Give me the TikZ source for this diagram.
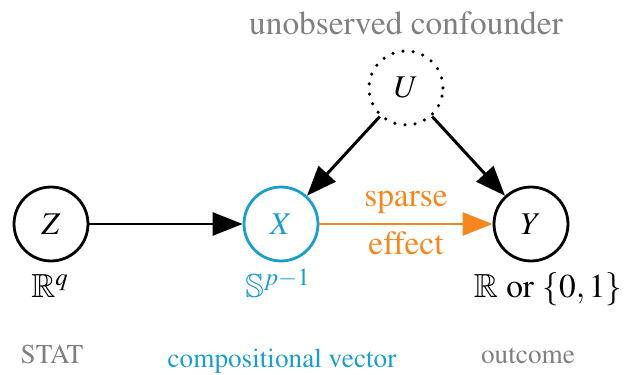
\documentclass[tikz,border=0pt]{standalone}
\usepackage[T1]{fontenc}
\usepackage{mathptmx}
\usepackage{amssymb}
\usetikzlibrary{arrows.meta}
\definecolor{cblue}{RGB}{27,158,206}
\definecolor{corange}{RGB}{245,135,30}
\definecolor{cgray}{RGB}{128,128,128}
\begin{document}
\begin{tikzpicture}[x=0.02cm,y=-0.02cm,
  var/.style={circle,draw,line width=1.6pt,minimum size=1.48cm,inner sep=0pt,font=\fontsize{18}{20}\selectfont},
  arr/.style={line width=1.7pt,-{Triangle[length=17pt,width=13pt]}},
  lab/.style={anchor=base,font=\rmfamily\fontsize{19}{22}\selectfont},
  small/.style={anchor=base,font=\rmfamily\fontsize{15.5}{18}\selectfont}]
\useasboundingbox (0,0) rectangle (630,375);
\node[lab,text=cgray] (conf) at (406,35) {unobserved confounder};
\node[var,dash pattern=on 0pt off 5.8pt,line cap=round,line width=2pt] (U) at (406,88) {$U$};
\node[var] (Z) at (51,224) {$Z$};
\node[var,draw=cblue,text=cblue] (X) at (281,224) {$X$};
\node[var] (Y) at (531,224) {$Y$};
\draw[arr] (Z) -- (X);
\draw[arr,corange] (X) -- (Y);
\draw[arr] (U) -- (X);
\draw[arr] (U) -- (Y);
\node[lab,text=corange] (sp) at (406,207) {sparse};
\node[lab,text=corange] (ef) at (406,255) {effect};
\node[lab] (lz) at (50,298) {$\mathbb{R}^q$};
\node[lab,text=cblue] (lx) at (278,298) {$\mathbb{S}^{p-1}$};
\node[lab] (ly) at (548,298) {$\mathbb{R}$ or $\{0,1\}$};
\node[small,text=cgray] (bz) at (52,364) {STAT};
\node[small,text=cblue] (bx) at (282,368) {compositional vector};
\node[small,text=cgray] (by) at (528,364) {outcome};
\end{tikzpicture}
\end{document}
